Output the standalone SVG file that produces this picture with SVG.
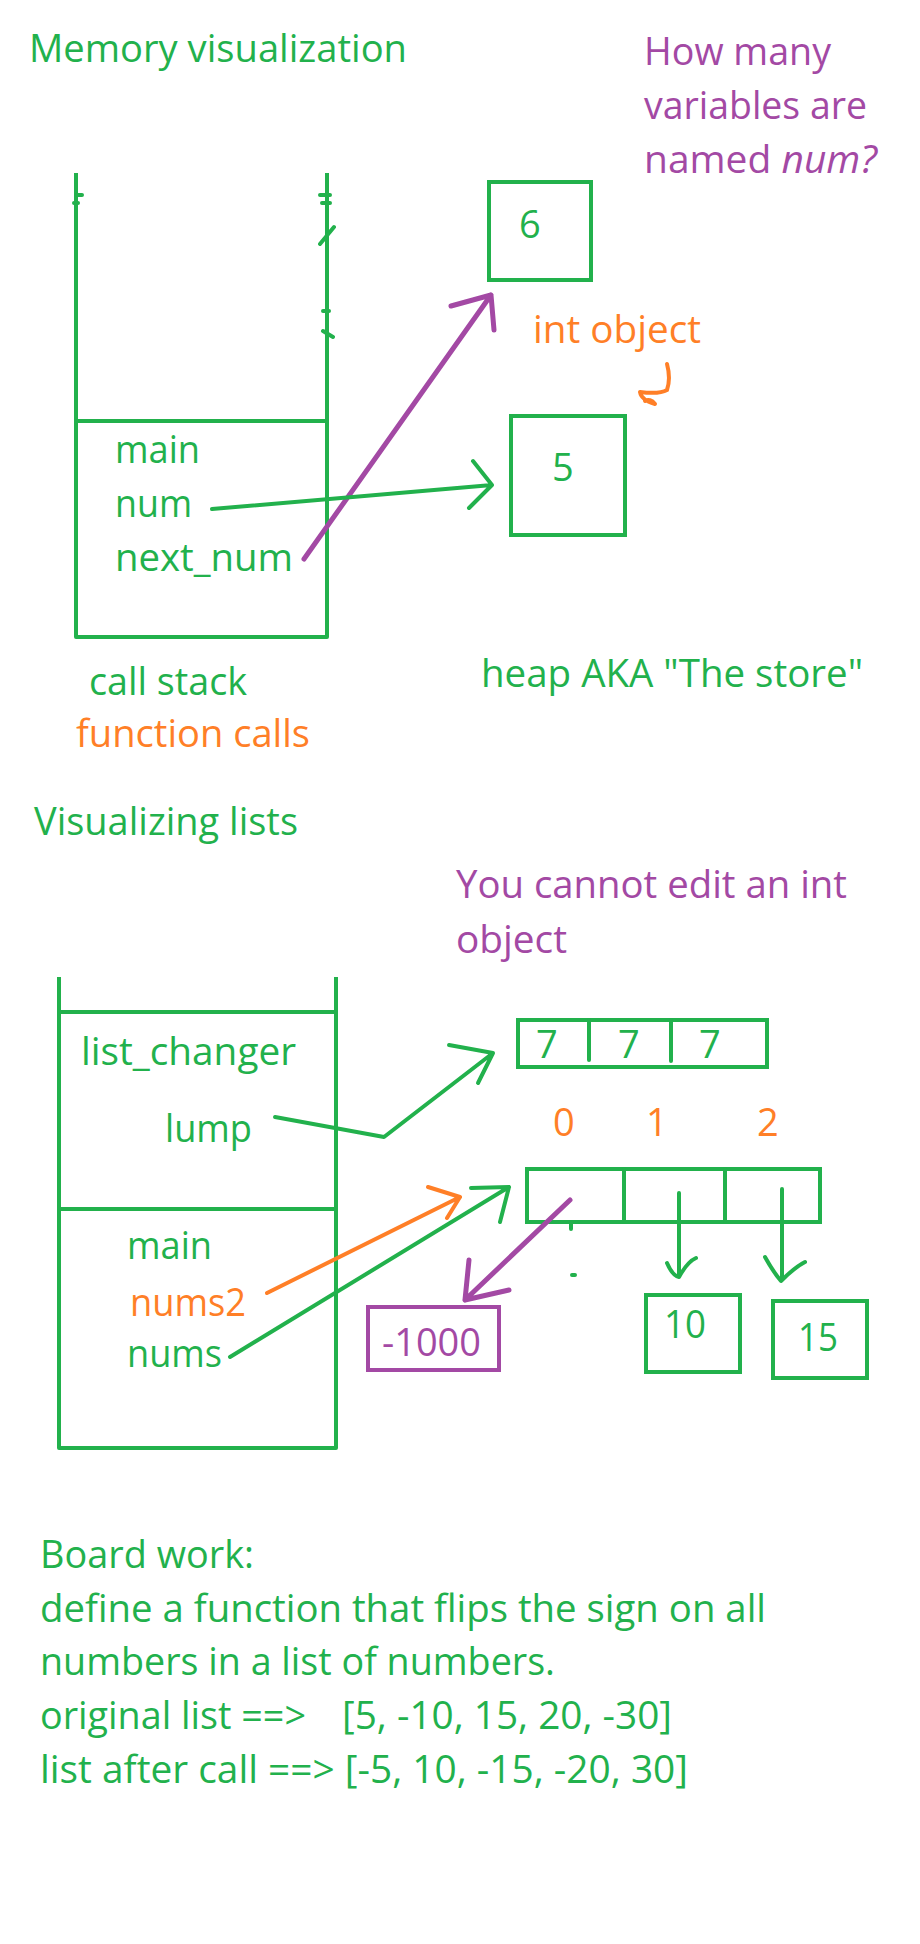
<svg xmlns="http://www.w3.org/2000/svg" width="920" height="1944" viewBox="0 0 920 1944">
<style>
text{font-family:"Open Sans","Noto Sans","Liberation Sans",sans-serif;font-size:38px}
.g{fill:#22b14c}.o{fill:#ff7f27}.p{fill:#a349a4}
.sg{fill:none;stroke:#22b14c;stroke-width:4;stroke-linecap:round;stroke-linejoin:round}
.so{fill:none;stroke:#ff7f27;stroke-width:4;stroke-linecap:round;stroke-linejoin:round}
.sp{fill:none;stroke:#a349a4;stroke-width:5;stroke-linecap:round;stroke-linejoin:round}
.box{fill:none;stroke-width:4;stroke-linecap:square}
</style>
<rect width="920" height="1944" fill="#fff"/>

<g id="title1"><text class="g" x="29" y="62" textLength="378" lengthAdjust="spacingAndGlyphs">Memory visualization</text></g>
<g id="question"><text class="p" x="644" y="65" textLength="187" lengthAdjust="spacingAndGlyphs">How many</text>
<text class="p" x="644" y="119" textLength="223" lengthAdjust="spacingAndGlyphs">variables are</text>
<text class="p" x="644" y="173" textLength="233" lengthAdjust="spacingAndGlyphs">named <tspan font-style="italic">num?</tspan></text></g>

<g id="stack1">
<path class="sg" style="stroke-linecap:butt" d="M76,173 V637 H327 V173 M76,421 H327"/>
<path class="sg" stroke-width="3" d="M77,195 h5 M74,203 h4 M320,195 h10 M322,203 h8 M320,244 L334,227 M323,311 h6 M323,331 L333,337"/>
<text class="g" x="115" y="463" textLength="85" lengthAdjust="spacingAndGlyphs">main</text>
<text class="g" x="115" y="517" textLength="77" lengthAdjust="spacingAndGlyphs">num</text>
<text class="g" x="115" y="571" textLength="178" lengthAdjust="spacingAndGlyphs">next_num</text>
<text class="g" x="89" y="695" textLength="158" lengthAdjust="spacingAndGlyphs">call stack</text>
<text class="o" x="76" y="747" textLength="234" lengthAdjust="spacingAndGlyphs">function calls</text>
</g>

<g id="obj6"><rect class="box" x="489" y="182" width="102" height="98" stroke="#22b14c"/>
<text class="g" x="519" y="238">6</text></g>
<g id="intobj"><text class="o" x="533" y="343" textLength="168" lengthAdjust="spacingAndGlyphs">int object</text>
<path class="so" d="M667,364 C670,375 669,384 667,390 C660,394 648,393 640,392 C641,398 648,402 655,404 C652,400 648,399 645,401"/></g>
<g id="obj5"><rect class="box" x="511" y="416" width="114" height="119" stroke="#22b14c"/>
<text class="g" x="552" y="481">5</text></g>
<g id="heaplabel"><text class="g" x="481" y="687" textLength="382" lengthAdjust="spacingAndGlyphs">heap AKA "The store"</text></g>

<g id="title2"><text class="g" x="34" y="835" textLength="264" lengthAdjust="spacingAndGlyphs">Visualizing lists</text></g>
<g id="note2"><text class="p" x="456" y="898" textLength="391" lengthAdjust="spacingAndGlyphs">You cannot edit an int</text>
<text class="p" x="456" y="953" textLength="111" lengthAdjust="spacingAndGlyphs">object</text></g>

<g id="stack2">
<path class="sg" style="stroke-linecap:butt" d="M59,977 V1448 H336 V977 M59,1012 H336 M59,1209 H336"/>
<text class="g" x="81" y="1065" textLength="215" lengthAdjust="spacingAndGlyphs">list_changer</text>
<text class="g" x="165" y="1142" textLength="87" lengthAdjust="spacingAndGlyphs">lump</text>
<text class="g" x="127" y="1259" textLength="85" lengthAdjust="spacingAndGlyphs">main</text>
<text class="o" x="130" y="1316" textLength="116" lengthAdjust="spacingAndGlyphs">nums2</text>
<text class="g" x="127" y="1367" textLength="95" lengthAdjust="spacingAndGlyphs">nums</text>
</g>

<g id="list777">
<rect class="box" x="518" y="1020" width="249" height="47" stroke="#22b14c"/>
<path class="sg" d="M589,1020 V1060 M671,1020 V1061"/>
<text class="g" x="536" y="1058">7</text><text class="g" x="618" y="1058">7</text><text class="g" x="699" y="1058">7</text>
</g>
<g id="indices"><text class="o" x="553" y="1136">0</text><text class="o" x="646" y="1136">1</text><text class="o" x="757" y="1136">2</text></g>
<g id="list_nums">
<rect class="box" x="527" y="1169" width="293" height="53" stroke="#22b14c"/>
<path class="sg" d="M624,1169 V1222 M725,1169 V1221"/>
<path class="sg" stroke-width="3" d="M571,1223 V1229 M572,1275 h3"/>
</g>
<g id="objm1000"><rect class="box" x="368" y="1307" width="131" height="63" stroke="#a349a4"/>
<text class="p" x="382" y="1356" textLength="99" lengthAdjust="spacingAndGlyphs">-1000</text></g>
<g id="obj10"><rect class="box" x="646" y="1295" width="94" height="77" stroke="#22b14c"/>
<text class="g" x="664" y="1338" textLength="42" lengthAdjust="spacingAndGlyphs">10</text></g>
<g id="obj15"><rect class="box" x="773" y="1301" width="94" height="77" stroke="#22b14c"/>
<text class="g" x="798" y="1351" textLength="40" lengthAdjust="spacingAndGlyphs">15</text></g>

<g id="connectors">
<path class="sp" d="M304,559 L491,295 M451,306 L491,295 L494,330"/>
<path class="sg" d="M212,509 L492,485 M473,461 L492,485 L469,508"/>
<path class="sg" d="M275,1117 L384,1137 L493,1053 M449,1045 L493,1053 L478,1083"/>
<path class="so" d="M267,1293 L460,1197 M428,1187 L460,1197 L447,1218"/>
<path class="sg" d="M230,1357 L509,1187 M471,1188 L509,1187 L500,1222"/>
<path class="sp" d="M570,1200 L465,1300 M469,1260 L465,1300 L509,1290"/>
<path class="sg" d="M679,1193 V1276 M667,1263 C670,1270 674,1276 679,1277 C684,1268 689,1261 696,1258"/>
<path class="sg" d="M782,1189 V1279 M765,1257 C770,1266 775,1274 781,1281 C789,1273 797,1266 805,1262"/>
</g>

<g id="boardwork">
<text class="g" x="40" y="1568" textLength="214" lengthAdjust="spacingAndGlyphs">Board work:</text>
<text class="g" x="40" y="1622" textLength="726" lengthAdjust="spacingAndGlyphs">define a function that flips the sign on all</text>
<text class="g" x="40" y="1675" textLength="515" lengthAdjust="spacingAndGlyphs">numbers in a list of numbers.</text>
<text class="g" x="40" y="1729" textLength="266" lengthAdjust="spacingAndGlyphs">original list ==&gt;</text>
<text class="g" x="342" y="1729" textLength="330" lengthAdjust="spacingAndGlyphs">[5, -10, 15, 20, -30]</text>
<text class="g" x="40" y="1783" textLength="648" lengthAdjust="spacingAndGlyphs">list after call ==&gt; [-5, 10, -15, -20, 30]</text>
</g>
</svg>
